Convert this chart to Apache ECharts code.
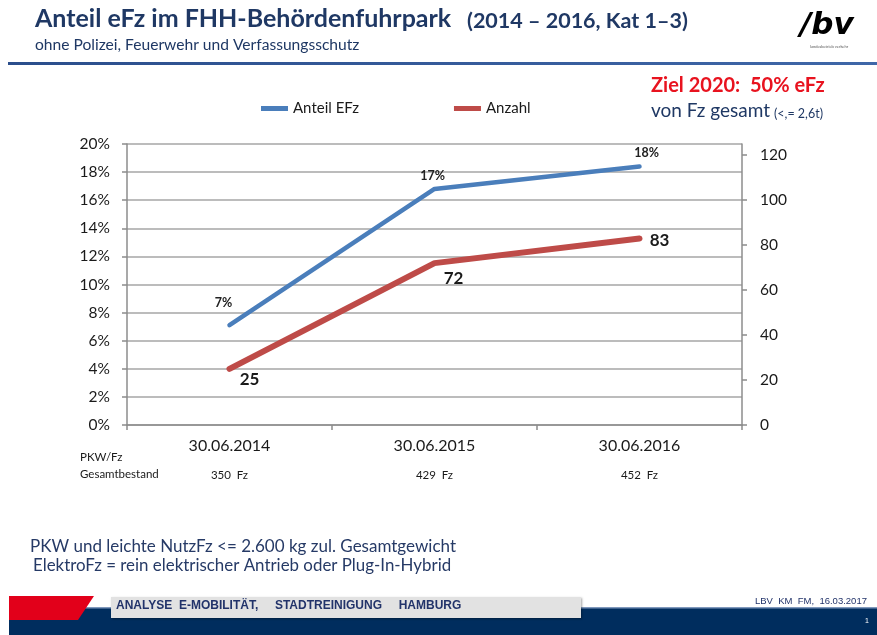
<!DOCTYPE html>
<html><head><meta charset="utf-8">
<script src="https://cdn.jsdelivr.net/npm/echarts@6/dist/echarts.min.js"></script>
<style>html,body{margin:0;padding:0;background:#fff}#c{width:877px;height:635px}</style>
</head><body><div id="c"></div>
<script>
// ---- data ----
const categories = ['30.06.2014', '30.06.2015', '30.06.2016'];
const anteilEFz = [7.1, 16.8, 18.4];      // % (left axis)
const anzahl = [25, 72, 83];              // count (right axis)
const gesamtbestand = [350, 429, 452];    // PKW/Fz Gesamtbestand
const leftTickValues = [0, 2, 4, 6, 8, 10, 12, 14, 16, 18, 20];
const rightTickValues = [0, 20, 40, 60, 80, 100, 120];

const FONT = 'Lato, "Open Sans", sans-serif';
const NAVY = '#1F3864';
const blueOffsets = [[-6, -22], [-2, -13], [7, -14]];
const redOffsets = [[20, 11], [19, 15], [20, 2]];

const chart = echarts.init(document.getElementById('c'), null, {renderer: 'canvas'});

const option = {
  backgroundColor: '#fff',
  animation: false,
  textStyle: {fontFamily: FONT},
  legend: {
    left: 256, top: 96,
    icon: 'rect', itemWidth: 27, itemHeight: 5, itemGap: 95,
    textStyle: {fontSize: 15, color: '#1a1a1a', fontFamily: FONT},
    data: ['Anteil EFz', 'Anzahl']
  },
  grid: {left: 127, right: 135, top: 144, bottom: 210, containLabel: false},
  xAxis: [{
    type: 'category', data: categories, boundaryGap: true,
    axisLine: {show: true, lineStyle: {color: '#8C8C8C', width: 1.5}},
    axisTick: {show: true, length: 5, lineStyle: {color: '#8C8C8C', width: 1.5}},
    axisLabel: {fontSize: 16, color: '#1a1a1a', margin: 13, fontFamily: FONT}
  }, {
    type: 'category', data: gesamtbestand, position: 'bottom', boundaryGap: true,
    axisLine: {show: false}, axisTick: {show: false},
    axisLabel: {fontSize: 11.5, color: '#1a1a1a', margin: 44, fontFamily: FONT,
      formatter: v => v + '  Fz'}
  }],
  yAxis: [{
    type: 'value', min: 0, max: 20, interval: 2,
    axisLine: {show: true, lineStyle: {color: '#8C8C8C', width: 1.5}},
    axisTick: {show: true, length: 5, lineStyle: {color: '#8C8C8C', width: 1.5}},
    axisLabel: {formatter: '{value}%', fontSize: 15.5, color: '#1a1a1a', margin: 17, fontFamily: FONT},
    splitLine: {show: true, lineStyle: {color: '#A6A6A6', width: 1.5}}
  }, {
    type: 'value', min: 0, max: 125, position: 'right',
    axisLine: {show: true, lineStyle: {color: '#8C8C8C', width: 1.5}},
    axisTick: {show: true, length: 5, inside: false, customValues: rightTickValues,
      lineStyle: {color: '#8C8C8C', width: 1.5}},
    axisLabel: {fontSize: 15.5, color: '#1a1a1a', margin: 18, fontFamily: FONT,
      customValues: rightTickValues},
    splitLine: {show: false}
  }],
  series: [{
    name: 'Anteil EFz', type: 'line', yAxisIndex: 0, xAxisIndex: 0,
    symbol: 'circle', symbolSize: 1, showSymbol: true,
    lineStyle: {color: '#4A7EBB', width: 4.5, cap: 'round', join: 'round'},
    itemStyle: {color: '#4A7EBB'},
    data: anteilEFz.map((v, i) => ({
      value: v,
      label: {offset: blueOffsets[i]}
    })),
    label: {show: true, position: 'inside', fontSize: 12.5, fontWeight: 'bold', color: '#222',
      fontFamily: FONT, formatter: p => Math.round(p.value) + '%'}
  }, {
    name: 'Anzahl', type: 'line', yAxisIndex: 1, xAxisIndex: 0,
    symbol: 'circle', symbolSize: 1, showSymbol: true,
    lineStyle: {color: '#BE4B48', width: 6, cap: 'round', join: 'round'},
    itemStyle: {color: '#BE4B48'},
    data: anzahl.map((v, i) => ({
      value: v,
      label: {offset: redOffsets[i]}
    })),
    label: {show: true, position: 'inside', fontSize: 17, fontWeight: 'bold', color: '#1a1a1a',
      fontFamily: FONT, formatter: p => String(p.value)}
  }],
  graphic: [
    // header
    {type: 'text', left: 35, top: 6, style: {text: 'Anteil eFz im FHH-Behördenfuhrpark', fontSize: 25, fontWeight: 'bold', fill: NAVY, fontFamily: FONT}},
    {type: 'text', left: 467, top: 10, style: {text: '(2014 – 2016, Kat 1–3)', fontSize: 21.5, fontWeight: 'bold', fill: NAVY, fontFamily: FONT}},
    {type: 'text', left: 35, top: 37, style: {text: 'ohne Polizei, Feuerwehr und Verfassungsschutz', fontSize: 15.6, fill: NAVY, fontFamily: FONT}},
    {type: 'rect', shape: {x: 8, y: 62, width: 869, height: 3}, style: {fill: new echarts.graphic.LinearGradient(0, 0, 1, 0, [{offset: 0, color: '#2B4E8C'}, {offset: 1, color: '#3F67A8'}])}},
    // logo
    {type: 'text', left: 800, top: 10, style: {text: '/bv', fontSize: 31, fontWeight: 'bold', fontStyle: 'italic', fill: new echarts.graphic.LinearGradient(0, 0, 1, 1, [{offset: 0, color: '#1E2F66'}, {offset: 0.5, color: '#8A97B8'}, {offset: 1, color: '#1E2F66'}]), fontFamily: '"DejaVu Sans", sans-serif'}},
    {type: 'text', left: 810, top: 45, style: {text: 'landesbetrieb verkehr', fontSize: 4, fill: '#555', fontFamily: FONT}},
    // goal box
    {type: 'text', left: 651, top: 76, style: {text: 'Ziel 2020:  50% eFz', fontSize: 20, fontWeight: 'bold', fill: '#E8131F', fontFamily: FONT}},
    {type: 'text', left: 651, top: 101, style: {text: 'von Fz gesamt', fontSize: 19, fill: NAVY, fontFamily: FONT}},
    {type: 'text', left: 774, top: 107, style: {text: '(<,= 2,6t)', fontSize: 12.5, fill: NAVY, fontFamily: FONT}},
    // row labels
    {type: 'text', left: 80, top: 451, style: {text: 'PKW/Fz', fontSize: 11.5, fill: '#1a1a1a', fontFamily: FONT}},
    {type: 'text', left: 80, top: 468, style: {text: 'Gesamtbestand', fontSize: 11.5, fill: '#1a1a1a', fontFamily: FONT}},
    // notes
    {type: 'text', left: 30, top: 538, style: {text: 'PKW und leichte NutzFz <= 2.600 kg zul. Gesamtgewicht', fontSize: 17, fill: '#263A66', fontFamily: FONT}},
    {type: 'text', left: 33, top: 557, style: {text: 'ElektroFz = rein elektrischer Antrieb oder Plug-In-Hybrid', fontSize: 16.9, fill: '#263A66', fontFamily: FONT}},
    // footer
    {type: 'rect', shape: {x: 9, y: 608, width: 868, height: 27}, style: {fill: '#002D5E'}},
    {type: 'rect', shape: {x: 9, y: 607, width: 868, height: 1.5}, style: {fill: '#7F98BC'}},
    {type: 'polygon', shape: {points: [[9, 596], [94, 596], [78, 620], [9, 620]]}, style: {fill: '#E2001A'}},
    {type: 'rect', shape: {x: 111, y: 597, width: 470, height: 21}, style: {fill: '#E2E2E2', shadowColor: 'rgba(0,0,0,0.35)', shadowBlur: 2, shadowOffsetX: 1, shadowOffsetY: 1}},
    {type: 'text', left: 116, top: 600, style: {text: 'ANALYSE  E-MOBILITÄT,     STADTREINIGUNG     HAMBURG', fontSize: 12, fontWeight: 'bold', fill: '#22336A', fontFamily: '"Liberation Sans", sans-serif'}},
    {type: 'text', left: 755, top: 596, style: {text: 'LBV  KM  FM,  16.03.2017', fontSize: 9.5, fill: '#22336A', fontFamily: '"Liberation Sans", sans-serif'}},
    {type: 'text', left: 865, top: 618, style: {text: '1', fontSize: 7, fill: '#fff', fontFamily: '"Liberation Sans", sans-serif'}}
  ]
};
chart.setOption(option);
</script>
</body></html>
